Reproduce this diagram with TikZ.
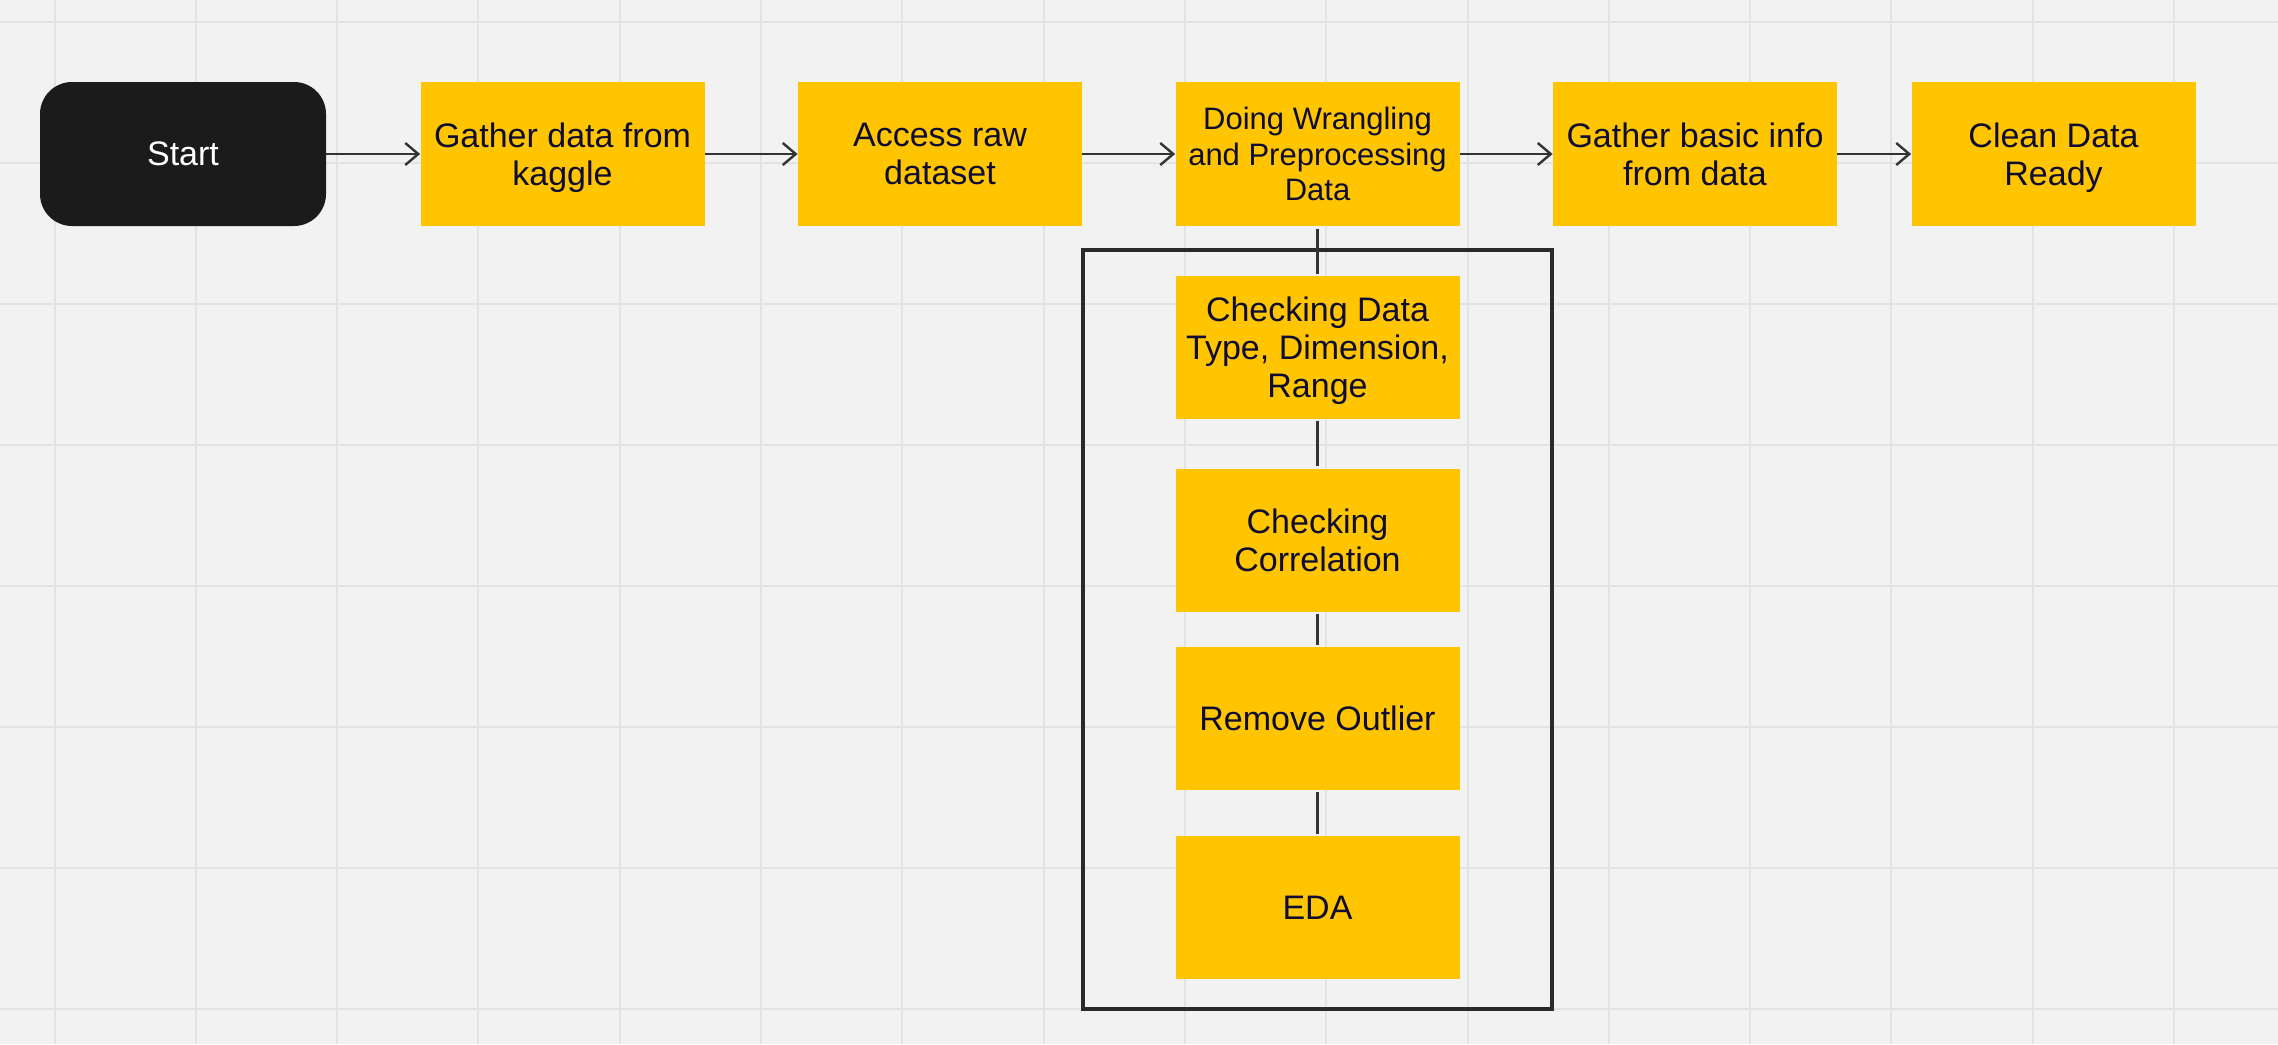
\documentclass[tikz,border=0pt]{standalone}
\usepackage{fontspec}
\setmainfont{Liberation Sans}
\usetikzlibrary{arrows.meta}
\definecolor{bg}{HTML}{F2F2F2}
\definecolor{gridc}{HTML}{E3E3E3}
\definecolor{yel}{HTML}{FFC500}
\definecolor{txt}{HTML}{0F0C33}
\definecolor{startc}{HTML}{1B1B1B}
\definecolor{linec}{HTML}{333333}
\definecolor{framec}{HTML}{2A2A2A}
\tikzset{
  stepbox/.style={fill=yel, draw=none, minimum width=142pt, minimum height=72pt,
    inner sep=0pt, align=center, text=txt, text depth=0pt, font=\fontsize{17}{19}\selectfont},
  startbox/.style={fill=startc, draw=none, rounded corners=16pt, minimum width=143pt,
    minimum height=72pt, inner sep=0pt, align=center, text=white, font=\fontsize{17}{19}\selectfont},
  flowarrow/.style={draw=linec, line width=1.1pt, -{Straight Barb[length=6.5pt,width=11pt,line width=1.2pt]}},
  joinline/.style={draw=linec, line width=1.3pt},
  groupframe/.style={draw=framec, line width=1.6pt, fill=none},
}
\begin{document}
\begin{tikzpicture}[x=0.5pt,y=-0.5pt]
\useasboundingbox (0,0) rectangle (2278,1044);
\fill[bg] (0,0) rectangle (2278,1044);
% grid
\foreach \i in {0,...,15} {
  \draw[gridc, line width=1pt] ({54.5+141.3*\i},0) -- ({54.5+141.3*\i},1044);
}
\foreach \j in {0,...,7} {
  \draw[gridc, line width=1pt] (0,{21.7+141*\j}) -- (2278,{21.7+141*\j});
}
% group frame
\node[groupframe, minimum width=234.5pt, minimum height=379.5pt, inner sep=0pt] (frame) at (1317.5,629.5) {};
% top row
\node[startbox] (start) at (183,154) {Start};
\node[stepbox] (kaggle) at (562.5,154) {Gather data from\\kaggle};
\node[stepbox] (raw) at (940,154) {Access raw\\dataset};
\node[stepbox, font=\fontsize{15.5}{17.75}\selectfont] (wrangle) at (1317.5,154) {Doing Wrangling\\and Preprocessing\\Data};
\node[stepbox] (info) at (1695,154) {Gather basic info\\from data};
\node[stepbox] (clean) at (2053.5,154) {Clean Data\\Ready};
% sub steps
\node[stepbox, minimum height=71.5pt] (types) at (1317.5,347.5) {Checking Data\\Type, Dimension,\\Range};
\node[stepbox, minimum height=71.5pt] (corr) at (1317.5,540) {Checking\\Correlation};
\node[stepbox, minimum height=71.5pt] (outlier) at (1317.5,718.5) {Remove Outlier};
\node[stepbox, minimum height=71.5pt] (eda) at (1317.5,907.5) {EDA};
% arrows
\draw[flowarrow] (start) -- (kaggle);
\draw[flowarrow] (kaggle) -- (raw);
\draw[flowarrow] (raw) -- (wrangle);
\draw[flowarrow] (wrangle) -- (info);
\draw[flowarrow] (info) -- (clean);
% vertical joins
\draw[joinline] ([yshift=-1.5pt]wrangle.south) -- ([yshift=1pt]types.north);
\draw[joinline] ([yshift=-1pt]types.south) -- ([yshift=1pt]corr.north);
\draw[joinline] ([yshift=-1pt]corr.south) -- ([yshift=1pt]outlier.north);
\draw[joinline] ([yshift=-1pt]outlier.south) -- ([yshift=1pt]eda.north);
\end{tikzpicture}
\end{document}
